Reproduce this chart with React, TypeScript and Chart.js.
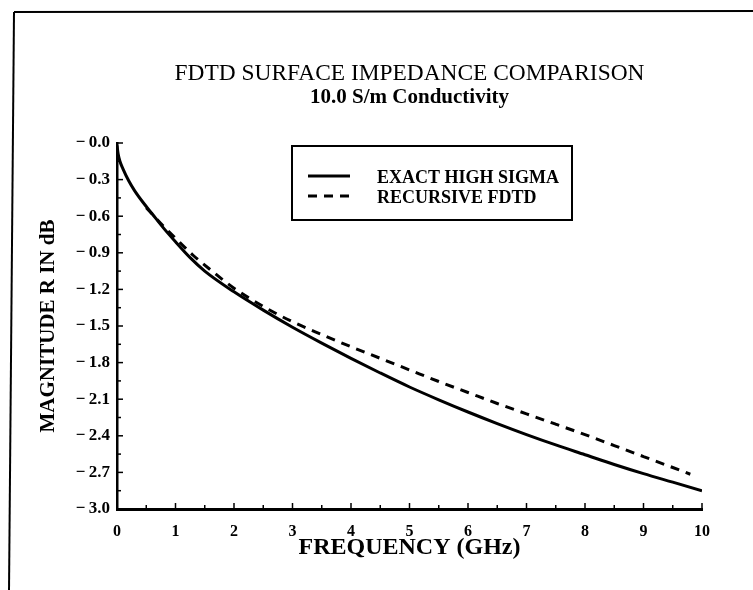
import React, { useEffect, useRef } from 'react';
import { Chart, registerables } from 'chart.js';

Chart.register(...registerables);

const chartTitle = 'FDTD SURFACE IMPEDANCE COMPARISON';
const chartSubtitle = '10.0 S/m Conductivity';
const xAxisTitle = 'FREQUENCY (GHz)';
const yAxisTitle = 'MAGNITUDE R IN dB';

const exactLabel = 'EXACT HIGH SIGMA';
const recursiveLabel = 'RECURSIVE FDTD';

const exactFreq = [0, 0.02, 0.05, 0.1, 0.2, 0.3, 0.45, 0.6, 0.8, 1.0, 1.25, 1.5, 2.0, 2.5, 3.0, 3.5, 4.0, 4.5, 5.0, 5.5, 6.0, 6.5, 7.0, 7.5, 8.0, 8.5, 9.0, 9.5, 10.0];
const exactMag = [-0.02, -0.09, -0.15, -0.21, -0.31, -0.39, -0.49, -0.58, -0.70, -0.81, -0.94, -1.05, -1.22, -1.37, -1.51, -1.64, -1.765, -1.885, -2.0, -2.105, -2.205, -2.30, -2.39, -2.475, -2.555, -2.635, -2.71, -2.78, -2.85];

const recursiveFreq = [0.5, 0.75, 1.0, 1.3, 1.6, 2.0, 2.5, 3.0, 3.5, 4.0, 4.5, 5.0, 5.5, 6.0, 6.5, 7.0, 7.5, 8.0, 8.5, 9.0, 9.5, 9.8];
const recursiveMag = [-0.53, -0.66, -0.78, -0.92, -1.04, -1.19, -1.34, -1.465, -1.57, -1.67, -1.765, -1.86, -1.955, -2.045, -2.135, -2.22, -2.305, -2.39, -2.48, -2.57, -2.66, -2.715];

const xTickValues = [0, 1, 2, 3, 4, 5, 6, 7, 8, 9, 10];
const yTickValues = [0, -0.3, -0.6, -0.9, -1.2, -1.5, -1.8, -2.1, -2.4, -2.7, -3.0];

const SERIF = "'Liberation Serif', 'DejaVu Serif', serif";

const decorPlugin = {
  id: 'decor',
  afterDraw(chart: any) {
    const { ctx, chartArea, scales } = chart;
    const xs = scales.x;
    const ys = scales.y;
    const line = (x1: number, y1: number, x2: number, y2: number) => {
      ctx.beginPath();
      ctx.moveTo(x1, y1);
      ctx.lineTo(x2, y2);
      ctx.stroke();
    };
    ctx.save();
    ctx.strokeStyle = '#000';
    ctx.setLineDash([]);
    ctx.lineWidth = 1.5;
    // inward tick marks on x axis
    const xt = xs.ticks.map((t: any) => t.value);
    xt.forEach((v: number, i: number) => {
      const px = xs.getPixelForValue(v);
      line(px, chartArea.bottom, px, chartArea.bottom - 6);
      if (i < xt.length - 1) {
        const m = xs.getPixelForValue((v + xt[i + 1]) / 2);
        line(m, chartArea.bottom, m, chartArea.bottom - 4);
      }
    });
    // inward tick marks on y axis
    const yt = ys.ticks.map((t: any) => t.value);
    yt.forEach((v: number, i: number) => {
      const py = ys.getPixelForValue(v);
      line(chartArea.left, py, chartArea.left + 6, py);
      if (i < yt.length - 1) {
        const m = ys.getPixelForValue((v + yt[i + 1]) / 2);
        line(chartArea.left, m, chartArea.left + 4, m);
      }
    });
    // page frame
    ctx.lineWidth = 2;
    line(14, 12, chart.width, 11);
    line(14, 12, 9, chart.height);

    // legend box
    const bx = chartArea.left + 175;
    const by = chartArea.top + 3;
    ctx.lineWidth = 2;
    ctx.strokeRect(bx, by, 280, 74);
    chart.data.datasets.forEach((ds: any, i: number) => {
      const ly = by + 30 + i * 20;
      ctx.lineWidth = ds.borderWidth;
      ctx.setLineDash(ds.borderDash || []);
      line(bx + 16, ly, bx + 58, ly);
      ctx.setLineDash([]);
      ctx.fillStyle = '#000';
      ctx.font = `bold 18px ${SERIF}`;
      ctx.textBaseline = 'middle';
      ctx.textAlign = 'left';
      ctx.fillText(ds.label, bx + 85, ly + 2);
    });
    ctx.restore();
  },
};

export default function App() {
  const ref = useRef<HTMLCanvasElement>(null);
  useEffect(() => {
    if (!ref.current) return;
    Chart.defaults.color = '#000';
    const chart = new Chart(ref.current, {
      type: 'line',
      data: {
        datasets: [
          {
            label: exactLabel,
            data: exactFreq.map((f, i) => ({ x: f, y: exactMag[i] })),
            borderColor: '#000',
            borderWidth: 3,
            pointRadius: 0,
            fill: false,
            cubicInterpolationMode: 'monotone',
          },
          {
            label: recursiveLabel,
            data: recursiveFreq.map((f, i) => ({ x: f, y: recursiveMag[i] })),
            borderColor: '#000',
            borderWidth: 3,
            borderDash: [9, 7],
            pointRadius: 0,
            fill: false,
            cubicInterpolationMode: 'monotone',
          },
        ],
      },
      options: {
        animation: false,
        responsive: false,
        devicePixelRatio: 1,
        layout: { padding: { left: 0, right: 51, top: 0, bottom: 0 } },
        plugins: {
          legend: { display: false },
          tooltip: { enabled: false },
          title: {
            display: true,
            text: chartTitle,
            fullSize: false,
            color: '#000',
            font: { family: SERIF, size: 23.4, weight: 'normal', lineHeight: 1 },
            padding: { top: 62, bottom: 0 },
          },
          subtitle: {
            display: true,
            text: chartSubtitle,
            fullSize: false,
            color: '#000',
            font: { family: SERIF, size: 21, weight: 'bold', lineHeight: 1 },
            padding: { top: 2, bottom: 34.6 },
          },
        },
        scales: {
          x: {
            type: 'linear',
            min: 0,
            max: 10,
            afterBuildTicks: (scale: any) => {
              scale.ticks = xTickValues.map((v) => ({ value: v }));
            },
            afterFit: (scale: any) => {
              scale.height = 81;
            },
            grid: { display: false, drawTicks: false },
            border: { display: true, color: '#000', width: 3 },
            ticks: {
              color: '#000',
              padding: 13,
              font: { family: SERIF, size: 16, weight: 'bold' },
              callback: (v: any) => String(v),
            },
            title: {
              display: true,
              text: xAxisTitle,
              color: '#000',
              font: { family: SERIF, size: 24, weight: 'bold', lineHeight: 1.2 },
              padding: { top: 0, bottom: 27.6 },
            },
          },
          y: {
            type: 'linear',
            min: -3,
            max: 0,
            afterBuildTicks: (scale: any) => {
              scale.ticks = yTickValues.map((v) => ({ value: v }));
            },
            afterFit: (scale: any) => {
              scale.width = 117;
            },
            grid: { display: false, drawTicks: false },
            border: { display: true, color: '#000', width: 2.5 },
            ticks: {
              color: '#000',
              padding: 7,
              font: { family: SERIF, size: 17, weight: 'bold' },
              callback: (v: any) => '\u2212\u2009' + Math.abs(Number(v)).toFixed(1),
            },
            title: {
              display: true,
              text: yAxisTitle,
              color: '#000',
              font: { family: SERIF, size: 21, weight: 'bold', lineHeight: 1.2 },
              padding: { top: 36, bottom: 0 },
            },
          },
        },
      },
      plugins: [decorPlugin],
    } as any);
    return () => chart.destroy();
  }, []);

  return (
    <div style={{ position: 'absolute', left: 0, top: 0, width: 753, height: 590, background: '#fff' }}>
      <canvas ref={ref} width={753} height={590} style={{ display: 'block' }} />
    </div>
  );
}
